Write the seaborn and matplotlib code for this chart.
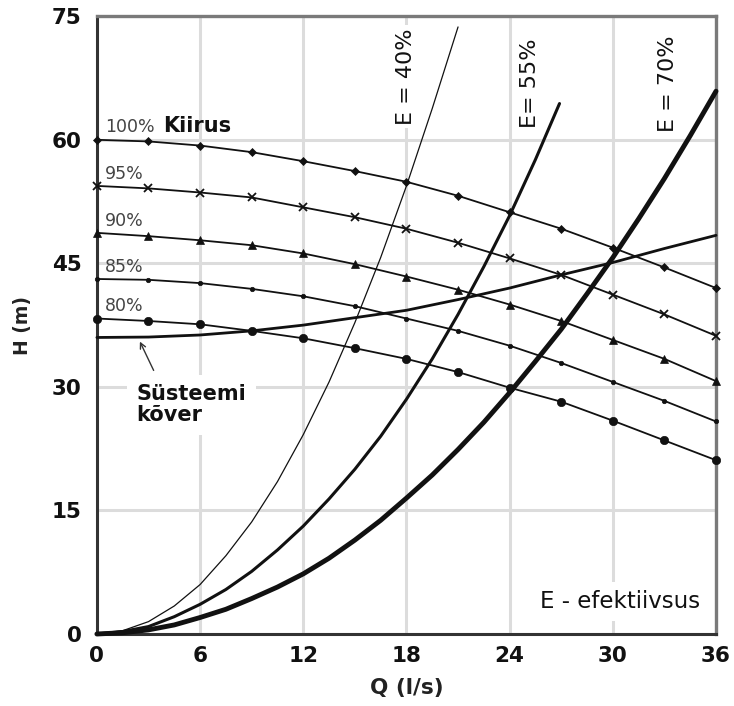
import matplotlib
matplotlib.use("Agg")
import matplotlib.pyplot as plt
import seaborn as sns

# Flow rate Q (l/s) at the sampled points
q = [0, 3, 6, 9, 12, 15, 18, 21, 24, 27, 30, 33, 36]

# Pump head H (m) at different speeds
speed_labels = ["100%", "95%", "90%", "85%", "80%"]
h_100 = [60.0, 59.8, 59.3, 58.5, 57.4, 56.2, 54.9, 53.2, 51.2, 49.2, 46.9, 44.5, 42.0]
h_95 = [54.4, 54.1, 53.6, 53.0, 51.8, 50.6, 49.2, 47.5, 45.6, 43.6, 41.2, 38.8, 36.2]
h_90 = [48.7, 48.3, 47.8, 47.2, 46.2, 44.9, 43.4, 41.8, 40.0, 38.0, 35.7, 33.4, 30.7]
h_85 = [43.1, 43.0, 42.6, 41.9, 41.0, 39.8, 38.3, 36.8, 35.0, 32.9, 30.6, 28.3, 25.8]
h_80 = [38.3, 38.0, 37.6, 36.8, 35.9, 34.7, 33.4, 31.8, 29.9, 28.2, 25.9, 23.5, 21.1]

# System curve
h_system = [36.0, 36.05, 36.3, 36.8, 37.5, 38.4, 39.3, 40.6, 42.0, 43.6, 45.1, 46.8, 48.4]

# Constant efficiency curves
q_e40 = [0, 1.5, 3, 4.5, 6, 7.5, 9, 10.5, 12, 13.5, 15, 16.5, 18, 19.5, 21]
h_e40 = [0.0, 0.4, 1.5, 3.4, 6.0, 9.5, 13.6, 18.5, 24.2, 30.6, 37.8, 45.7, 54.4, 63.8, 73.7]
q_e55 = [0, 1.5, 3, 4.5, 6, 7.5, 9, 10.5, 12, 13.5, 15, 16.5, 18, 19.5, 21, 22.5, 24, 25.5, 26.9]
h_e55 = [0.0, 0.3, 0.9, 2.1, 3.6, 5.4, 7.6, 10.2, 13.1, 16.4, 20.0, 24.0, 28.5, 33.4, 38.8,
         44.6, 50.8, 57.6, 64.4]
q_e70 = [0, 1.5, 3, 4.5, 6, 7.5, 9, 10.5, 12, 13.5, 15, 16.5, 18, 19.5, 21, 22.5, 24,
         25.5, 27, 28.5, 30, 31.5, 33, 34.5, 36]
h_e70 = [0.0, 0.15, 0.5, 1.1, 2.0, 3.0, 4.3, 5.7, 7.3, 9.2, 11.4, 13.8, 16.5, 19.3, 22.4,
         25.7, 29.3, 33.1, 37.0, 41.3, 45.7, 50.4, 55.3, 60.5, 65.9]

x_ticks = [0, 6, 12, 18, 24, 30, 36]
y_ticks = [0, 15, 30, 45, 60, 75]

sns.set_theme(style="whitegrid")
plt.rcParams["font.family"] = ["DejaVu Sans"]

fig = plt.figure(figsize=(7.34, 7.06), dpi=100)
ax = fig.add_axes([0.132, 0.102, 0.8435, 0.875])

ink = "#111111"

# Speed curves with markers
speed_series = [h_100, h_95, h_90, h_85, h_80]
markers = ["D", "x", "^", "o", "o"]
msizes = [4.5, 5.5, 6, 3.2, 6]
for vals, m, ms in zip(speed_series, markers, msizes):
    sns.lineplot(x=q, y=vals, ax=ax, color=ink, lw=1.3, marker=m, markersize=ms,
                 markeredgecolor=ink, markeredgewidth=1.3 if m == "x" else 0.5,
                 sort=False, clip_on=False, zorder=4)

# System curve
sns.lineplot(x=q, y=h_system, ax=ax, color=ink, lw=2.0, sort=False, zorder=4, clip_on=False)

# Efficiency curves
sns.lineplot(x=q_e40, y=h_e40, ax=ax, color=ink, lw=0.9, sort=False, zorder=3)
sns.lineplot(x=q_e55, y=h_e55, ax=ax, color=ink, lw=2.2, sort=False, zorder=3)
sns.lineplot(x=q_e70, y=h_e70, ax=ax, color=ink, lw=3.5, sort=False, zorder=3, clip_on=False)

ax.set_xlim(0, 36)
ax.set_ylim(0, 75)
ax.set_xticks(x_ticks)
ax.set_yticks(y_ticks)
ax.set_xticklabels([str(v) for v in x_ticks], fontsize=15.5, fontweight="bold", color=ink)
ax.set_yticklabels([str(v) for v in y_ticks], fontsize=15.5, fontweight="bold", color=ink)
ax.tick_params(axis="x", length=0, pad=9)
ax.tick_params(axis="y", length=0, pad=11)
ax.grid(True, color="#dcdcdc", lw=2.2)
ax.set_axisbelow(True)

for side in ["left", "bottom"]:
    ax.spines[side].set_color("#333333")
    ax.spines[side].set_linewidth(2.2)
for side in ["top", "right"]:
    ax.spines[side].set_color("#7a7a7a")
    ax.spines[side].set_linewidth(2.4)

ax.set_xlabel("Q (l/s)", fontsize=15.5, fontweight="bold", color="#222222", labelpad=8)
ax.set_ylabel("H (m)", fontsize=13.5, fontweight="bold", color="#222222", labelpad=14)

# Speed labels
label_y = [60.4, 54.8, 49.1, 43.5, 38.7]
for lab, yy in zip(speed_labels, label_y):
    ax.text(0.45, yy, lab, fontsize=12.5, color="#444444", ha="left", va="bottom", zorder=5)
ax.text(3.85, 60.5, "Kiirus", fontsize=15, fontweight="bold", color=ink,
        ha="left", va="bottom", zorder=5)

# System curve annotation
ax.text(2.3, 30.3, "Süsteemi\nkõver", fontsize=15, fontweight="bold", color=ink,
        ha="left", va="top", linespacing=1.05,
        bbox=dict(boxstyle="square,pad=0.45", fc="white", ec="none"), zorder=5)
ax.annotate("", xy=(2.5, 35.5), xytext=(3.3, 32.0),
            arrowprops=dict(arrowstyle="->", color="#333333", lw=1.0,
                            shrinkA=0, shrinkB=0, mutation_scale=10),
            zorder=5)

# Efficiency labels
eff_text = [("E = 40%", 18.0, 61.8), ("E= 55%", 25.2, 61.4), ("E = 70%", 33.2, 60.9)]
for txt, xx, yy in eff_text:
    ax.text(xx, yy, txt, rotation=90, fontsize=16, color=ink, ha="center", va="bottom",
            bbox=dict(boxstyle="square,pad=0.15", fc="white", ec="none"), zorder=5)

ax.text(35.1, 2.6, "E - efektiivsus", fontsize=16.5, color=ink, ha="right", va="bottom",
        bbox=dict(boxstyle="square,pad=0.35", fc="white", ec="none"), zorder=5)

fig.savefig("out.png", dpi=100, facecolor="white")
